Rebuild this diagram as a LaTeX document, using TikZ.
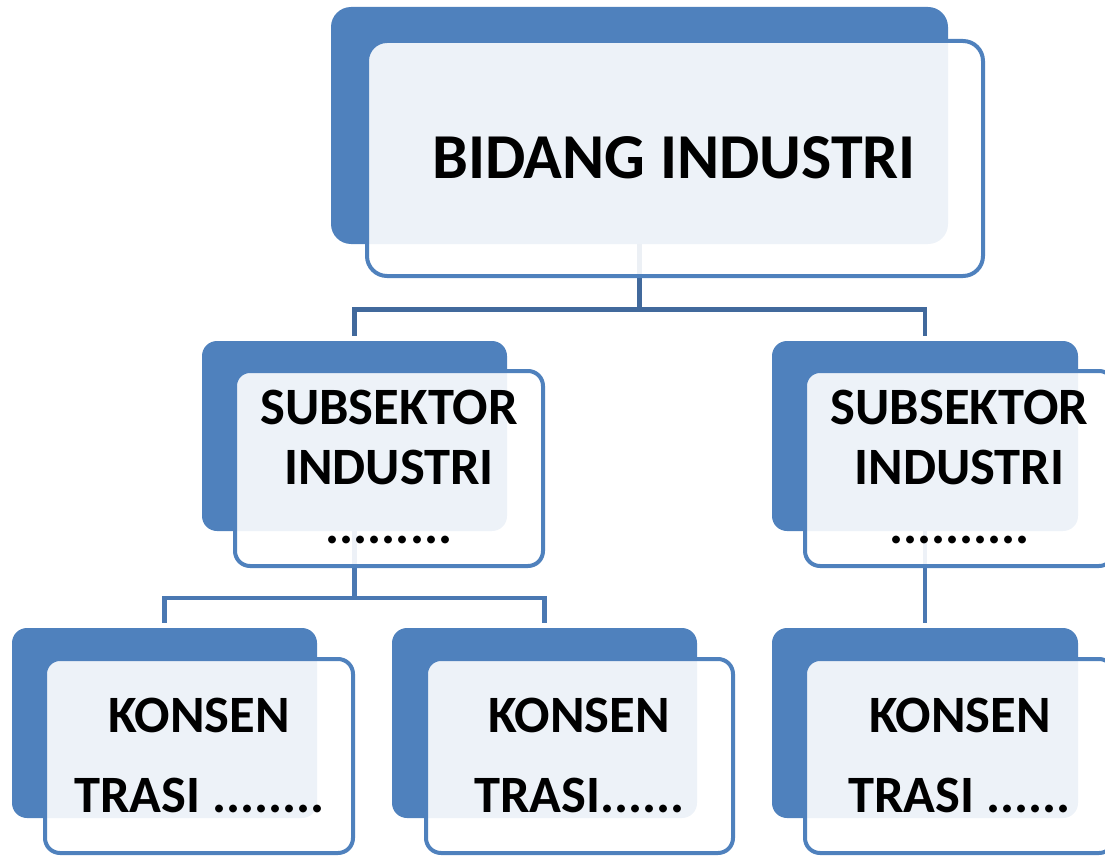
\documentclass[tikz,border=0pt]{standalone}
\usepackage{fontspec}
\setmainfont{Carlito}
\usetikzlibrary{calc}
\pgfdeclarelayer{backlayer}
\pgfdeclarelayer{connlayer}
\pgfsetlayers{backlayer,connlayer,main}
\definecolor{boxblue}{HTML}{4F81BD}
\definecolor{connA}{HTML}{41699C}
\definecolor{connB}{HTML}{4A78B2}
\tikzset{
  backbox/.style={fill=boxblue, draw=none, rounded corners=20pt, inner sep=0pt},
  frontbox/.style={fill=white, fill opacity=0.9, draw=boxblue, draw opacity=1, line width=4pt, rounded corners=20pt, inner sep=0pt},
  smallround/.style={rounded corners=15pt},
  lbl/.style={anchor=base, inner sep=0pt, text=black},
  big/.style={font=\bfseries\fontsize{64}{70}\selectfont},
  mid/.style={font=\bfseries\fontsize{52.5}{58}\selectfont},
  conn/.style={line width=4.5pt},
}
\begin{document}
\begin{tikzpicture}[x=1pt,y=-1pt]
\useasboundingbox (0,0) rectangle (1105,856);
% back boxes
\begin{pgfonlayer}{backlayer}
\node[backbox, minimum width=617pt, minimum height=237pt] (topb) at (639.5,125.5) {};
\node[backbox, smallround, minimum width=305pt, minimum height=190pt] (sublb) at (354.5,436) {};
\node[backbox, smallround, minimum width=306pt, minimum height=190pt] (subrb) at (925,436) {};
\node[backbox, smallround, minimum width=305pt, minimum height=190pt] (k1b) at (164.5,723) {};
\node[backbox, smallround, minimum width=305pt, minimum height=190pt] (k2b) at (544.5,723) {};
\node[backbox, smallround, minimum width=306pt, minimum height=190pt] (k3b) at (925,723) {};
\end{pgfonlayer}
% front boxes
\node[frontbox, minimum width=616pt, minimum height=235pt] (topf) at (675,158.5) {};
\node[frontbox, smallround, minimum width=308pt, minimum height=195pt] (sublf) at (389,468.5) {};
\node[frontbox, smallround, minimum width=309pt, minimum height=195pt] (subrf) at (959.5,468.5) {};
\node[frontbox, smallround, minimum width=308pt, minimum height=194pt] (k1f) at (199,756) {};
\node[frontbox, smallround, minimum width=307pt, minimum height=194pt] (k2f) at (579.5,756) {};
\node[frontbox, smallround, minimum width=309pt, minimum height=194pt] (k3f) at (959.5,756) {};
% connectors
\begin{pgfonlayer}{connlayer}
\coordinate (m1) at ($(topf.south)!0.5!(sublb.north)$);
\draw[conn, draw=connA] (topb.south) -- (topb.south |- m1);
\draw[conn, draw=connA, shorten >=5pt] (topb.south |- m1) -| (sublb.north);
\draw[conn, draw=connA, shorten >=5pt] (topb.south |- m1) -| (subrb.north);
\coordinate (m2) at ($(sublf.south)!0.5!(k1b.north)$);
\draw[conn, draw=connB] (sublb.south) -- (sublb.south |- m2);
\draw[conn, draw=connB, shorten >=5pt] (sublb.south |- m2) -| (k1b.north);
\draw[conn, draw=connB, shorten >=5pt] (sublb.south |- m2) -| (k2b.north);
\draw[conn, draw=connB, shorten >=5pt] (subrb.south) -- (k3b.north);
\end{pgfonlayer}
% labels
\node[lbl, big] (t0) at (674,178) {BIDANG INDUSTRI};
\node[lbl, mid] (s1a) at (389,424) {SUBSEKTOR};
\node[lbl, mid] (s1b) at (389,484) {INDUSTRI};
\node[lbl, mid] (s1c) at (389,543) {.........};
\node[lbl, mid] (s2a) at (959.5,424) {SUBSEKTOR};
\node[lbl, mid] (s2b) at (959.5,484) {INDUSTRI};
\node[lbl, mid] (s2c) at (959.5,543) {..........};
\node[lbl, mid] (k1a) at (199,732) {KONSEN};
\node[lbl, mid] (k1c) at (199.5,812) {TRASI ........};
\node[lbl, mid] (k2a) at (579,732) {KONSEN};
\node[lbl, mid] (k2c) at (579.5,812) {TRASI......};
\node[lbl, mid] (k3a) at (960,732) {KONSEN};
\node[lbl, mid] (k3c) at (959.5,812) {TRASI ......};
\end{tikzpicture}
\end{document}
